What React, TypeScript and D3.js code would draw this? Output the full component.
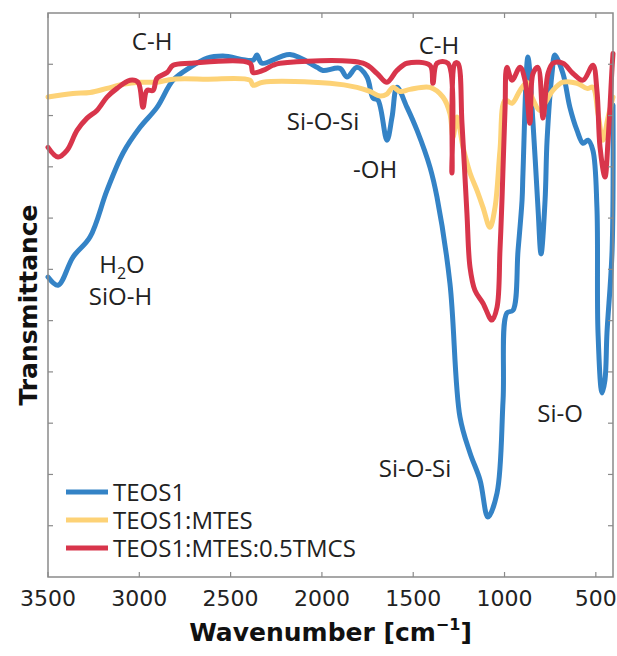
import * as d3 from 'd3';
import React from 'react';

const WIDTH = 617;
const HEIGHT = 656;
const MARGIN = { top: 13, right: 4, bottom: 79, left: 48 };

// wavenumber [cm-1], transmittance (arbitrary units)
const teos1: [number, number][] = [
  [3500, 58.5], [3445, 56.9], [3363, 62.4], [3270, 66.3], [3177, 75.4], [3089, 82.7],
  [2996, 87.7], [2903, 91.6], [2815, 96.9], [2722, 99.4], [2629, 101.2], [2542, 101.6],
  [2377, 100.8], [2356, 101.8], [2328, 100.2], [2175, 101.9], [2027, 99.4], [1994, 98.8],
  [1901, 99.2], [1863, 97.5], [1808, 99.4], [1753, 97.5], [1720, 93.4], [1693, 93.0],
  [1644, 85.2], [1616, 89.7], [1589, 95.5], [1534, 91.6], [1479, 87.1], [1408, 79.9],
  [1370, 74.1], [1299, 57.3], [1244, 31.2], [1189, 24.2], [1134, 18.9], [1091, 11.7],
  [1041, 16.4], [1008, 34.5], [987, 51.5], [954, 52.0], [926, 63.7], [904, 73.5],
  [899, 78.8], [872, 101.4], [844, 88.5], [817, 72.1], [800, 63.0], [778, 73.5],
  [767, 85.2], [740, 98.2], [724, 101.8], [680, 98.2], [642, 91.6], [603, 87.1],
  [570, 84.6], [543, 85.2], [516, 83.2], [494, 72.1], [488, 47.6], [466, 35.9],
  [450, 38.4], [439, 47.6], [411, 63.7], [406, 92.0],
];

const teos1Mtes: [number, number][] = [
  [3500, 93.6], [3363, 94.3], [3270, 94.5], [3177, 95.3], [3089, 96.1], [2996, 96.5],
  [2903, 96.5], [2815, 97.1], [2629, 97.1], [2394, 96.9], [2377, 95.9], [2323, 96.5],
  [1956, 96.3], [1808, 95.5], [1737, 94.7], [1682, 93.8], [1644, 94.2], [1611, 95.5],
  [1572, 94.7], [1518, 95.1], [1408, 95.5], [1337, 93.6], [1299, 90.4], [1282, 85.8],
  [1260, 89.7], [1227, 83.8], [1189, 78.8], [1151, 75.4], [1118, 72.1], [1080, 68.2],
  [1052, 72.1], [1025, 83.2], [997, 93.0], [959, 92.4], [915, 94.9], [877, 96.5],
  [850, 93.6], [806, 91.0], [778, 92.4], [735, 94.9], [680, 96.5], [603, 96.3],
  [548, 95.3], [516, 95.5], [488, 90.4], [461, 85.2], [433, 89.7], [406, 93.6],
];

const teos1MtesTmcs: [number, number][] = [
  [3500, 83.8], [3445, 81.9], [3396, 83.2], [3341, 87.1], [3286, 89.5], [3232, 91.0],
  [3177, 93.6], [3122, 95.3], [3051, 96.9], [3007, 96.5], [2980, 91.6], [2958, 94.9],
  [2925, 94.9], [2903, 97.3], [2848, 98.4], [2815, 99.8], [2722, 100.2], [2394, 100.2],
  [2377, 98.4], [2323, 98.8], [2268, 99.8], [2230, 100.2], [1775, 100.2], [1698, 98.2],
  [1644, 96.5], [1589, 98.8], [1534, 100.2], [1408, 99.8], [1392, 96.3], [1370, 100.2],
  [1310, 100.2], [1288, 78.8], [1271, 100.2], [1255, 100.2], [1233, 88.5], [1206, 71.0],
  [1189, 60.4], [1162, 55.9], [1118, 53.4], [1069, 50.1], [1041, 52.6], [1025, 63.7],
  [1014, 73.5], [997, 91.6], [987, 99.4], [959, 96.9], [915, 99.4], [888, 96.9],
  [861, 88.5], [844, 98.2], [817, 99.4], [789, 89.5], [762, 98.2], [735, 100.2],
  [680, 100.2], [625, 98.2], [570, 96.9], [516, 99.8], [494, 94.9], [477, 83.8],
  [450, 78.0], [433, 85.2], [411, 99.4], [406, 102.1],
];

const series = [
  { name: 'TEOS1', color: '#3483c6', data: teos1 },
  { name: 'TEOS1:MTES', color: '#fdd276', data: teos1Mtes },
  { name: 'TEOS1:MTES:0.5TMCS', color: '#d8354b', data: teos1MtesTmcs },
];

const xTicks = [3500, 3000, 2500, 2000, 1500, 1000, 500];
const yTicks = [10, 20, 30, 40, 50, 60, 70, 80, 90, 100];

const annotations = [
  { text: 'C-H', w: 2930, v: 102.7 },
  { text: 'C-H', w: 1359, v: 102.1 },
  { text: 'Si-O-Si', w: 1994, v: 87.1 },
  { text: '-OH', w: 1709, v: 77.8 },
  { text: 'SiO-H', w: 3103, v: 53.0 },
  { text: 'Si-O-Si', w: 1490, v: 19.5 },
  { text: 'Si-O', w: 696, v: 30.2 },
];

const ANNOT_FONT = "'Open Sans', sans-serif";
const AXIS_FONT = "'DejaVu Sans', sans-serif";

export default function App() {
  const boundsWidth = WIDTH - MARGIN.left - MARGIN.right;
  const boundsHeight = HEIGHT - MARGIN.top - MARGIN.bottom;

  const xScale = d3.scaleLinear().domain([3500, 406]).range([0, boundsWidth]);
  const yScale = d3.scaleLinear().domain([0, 110]).range([boundsHeight, 0]);

  const line = d3
    .line<[number, number]>()
    .x(d => xScale(d[0]))
    .y(d => yScale(d[1]))
    .curve(d3.curveCatmullRom.alpha(0.5));

  const tickLen = 5;

  return (
    <svg width={WIDTH} height={HEIGHT} style={{ position: 'absolute', left: 0, top: 0, background: '#fff' }}>
      <g transform={`translate(${MARGIN.left},${MARGIN.top})`}>
        {series.map(s => (
          <path
            key={s.name}
            d={line(s.data) ?? ''}
            fill="none"
            stroke={s.color}
            strokeWidth={5}
            strokeLinejoin="round"
            strokeLinecap="round"
          />
        ))}

        {/* axes box with inward ticks on all four sides */}
        <rect x={0} y={0} width={boundsWidth} height={boundsHeight} fill="none" stroke="#8a8a8a" strokeWidth={1.5} />
        {xTicks.map(t => (
          <g key={t}>
            <line x1={xScale(t)} x2={xScale(t)} y1={boundsHeight} y2={boundsHeight - tickLen} stroke="#8a8a8a" strokeWidth={1.2} />
            <line x1={xScale(t)} x2={xScale(t)} y1={0} y2={tickLen} stroke="#8a8a8a" strokeWidth={1.2} />
            <text
              x={xScale(t)}
              y={boundsHeight + 29}
              textAnchor="middle"
              fontFamily={AXIS_FONT}
              fontSize={22}
              fill="#222"
            >
              {t}
            </text>
          </g>
        ))}
        {yTicks.map(t => (
          <g key={t}>
            <line x1={0} x2={tickLen} y1={yScale(t)} y2={yScale(t)} stroke="#8a8a8a" strokeWidth={1.2} />
            <line x1={boundsWidth} x2={boundsWidth - tickLen} y1={yScale(t)} y2={yScale(t)} stroke="#8a8a8a" strokeWidth={1.2} />
          </g>
        ))}

        {/* peak labels */}
        {annotations.map((a, i) => (
          <text
            key={i}
            x={xScale(a.w)}
            y={yScale(a.v)}
            textAnchor="middle"
            fontFamily={ANNOT_FONT}
            fontSize={24}
            fill="#222"
          >
            {a.text}
          </text>
        ))}
        <text
          x={xScale(3095)}
          y={yScale(59.3)}
          textAnchor="middle"
          fontFamily={ANNOT_FONT}
          fontSize={24}
          fill="#222"
        >
          H<tspan fontSize={16} dy={6}>2</tspan>
          <tspan dy={-6}>O</tspan>
        </text>

        {/* legend */}
        {series.map((s, i) => (
          <g key={s.name} transform={`translate(18,${boundsHeight - 85 + i * 28})`}>
            <line x1={0} x2={42} y1={0} y2={0} stroke={s.color} strokeWidth={5} />
            <text x={47} y={9} fontFamily={ANNOT_FONT} fontSize={24} fill="#222">
              {s.name}
            </text>
          </g>
        ))}
      </g>

      <text
        x={MARGIN.left + boundsWidth / 2}
        y={641}
        textAnchor="middle"
        fontFamily={AXIS_FONT}
        fontWeight="bold"
        fontSize={25}
        fill="#111"
      >
        Wavenumber [cm<tspan fontSize={16} dy={-11}>−1</tspan>
        <tspan dy={11}>]</tspan>
      </text>
      <text
        transform={`translate(37,${MARGIN.top + boundsHeight / 2 + 10}) rotate(-90)`}
        textAnchor="middle"
        fontFamily={AXIS_FONT}
        fontWeight="bold"
        fontSize={25}
        fill="#111"
      >
        Transmittance
      </text>
    </svg>
  );
}
